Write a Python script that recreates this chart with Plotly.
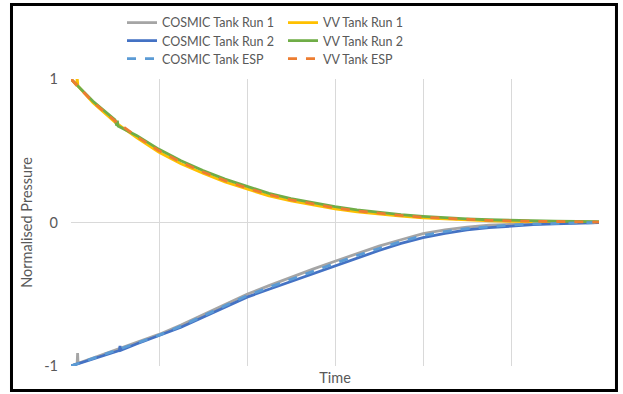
import plotly.graph_objects as go

# Common sampling instants (time axis has no printed units; one grid step per unit)
TIME = [0.0, 0.25, 0.5, 0.75, 1.0, 1.25, 1.5, 1.75, 2.0, 2.25, 2.5, 2.75, 3.0,
        3.25, 3.5, 3.75, 4.0, 4.25, 4.5, 4.75, 5.0, 5.25, 5.5, 5.75, 6.0]

# COSMIC tank: normalised pressure recovering from -1 towards 0
COSMIC_RUN1 = [-1.0, -0.945, -0.89, -0.835, -0.78, -0.715, -0.645, -0.575, -0.50,
               -0.44, -0.38, -0.325, -0.27, -0.215, -0.165, -0.12, -0.078, -0.052,
               -0.032, -0.019, -0.011, -0.006, -0.003, -0.001, 0.0]
COSMIC_RUN2 = [-1.0, -0.95, -0.90, -0.845, -0.79, -0.73, -0.66, -0.59, -0.52,
               -0.465, -0.41, -0.355, -0.30, -0.245, -0.195, -0.145, -0.105, -0.075,
               -0.052, -0.036, -0.024, -0.015, -0.009, -0.004, 0.0]
COSMIC_ESP = [-1.0, -0.948, -0.895, -0.84, -0.785, -0.722, -0.652, -0.582, -0.51,
              -0.452, -0.395, -0.34, -0.285, -0.23, -0.18, -0.132, -0.091, -0.063,
              -0.042, -0.027, -0.017, -0.010, -0.006, -0.003, 0.0]

# VV tank: normalised pressure decaying from 1 towards 0
VV_RUN1 = [1.0, 0.835, 0.70, 0.59, 0.49, 0.41, 0.343, 0.283, 0.232, 0.185, 0.15,
           0.12, 0.095, 0.075, 0.058, 0.044, 0.032, 0.024, 0.017, 0.012, 0.008,
           0.005, 0.003, 0.002, 0.001]
VV_RUN2 = [1.0, 0.845, 0.715, 0.605, 0.51, 0.43, 0.362, 0.302, 0.25, 0.203, 0.167,
           0.136, 0.11, 0.088, 0.07, 0.055, 0.043, 0.033, 0.025, 0.019, 0.014,
           0.011, 0.009, 0.007, 0.006]
VV_ESP = [1.0, 0.84, 0.708, 0.598, 0.50, 0.42, 0.352, 0.292, 0.24, 0.194, 0.158,
          0.128, 0.102, 0.081, 0.064, 0.049, 0.037, 0.028, 0.021, 0.015, 0.011,
          0.008, 0.006, 0.004, 0.003]

# Short transients recorded in the raw runs
COSMIC_RUN1_SPIKE_T = [0.07, 0.075, 0.08]
COSMIC_RUN1_SPIKE_V = [-0.983, -0.91, -0.982]
COSMIC_RUN2_SPIKE_T = [0.55, 0.557, 0.565]
COSMIC_RUN2_SPIKE_V = [-0.892, -0.86, -0.89]
VV_RUN1_SPIKE_T = [0.065, 0.07, 0.078]
VV_RUN1_SPIKE_V = [0.955, 1.01, 0.952]
VV_RUN2_SPIKE_T = [0.52, 0.527, 0.535]
VV_RUN2_SPIKE_V = [0.675, 0.71, 0.672]


def merged(t, v, st=(), sv=()):
    pts = sorted(list(zip(t, v)) + list(zip(st, sv)))
    return [p[0] for p in pts], [p[1] for p in pts]


FONT = "Lato"
TXT = "#595959"

# name, time, values, spike time, spike values, colour, dash, legend id
series = [
    ("COSMIC Tank Run 1", TIME, COSMIC_RUN1, COSMIC_RUN1_SPIKE_T, COSMIC_RUN1_SPIKE_V, "#a5a5a5", "solid", "legend"),
    ("VV Tank Run 1", TIME, VV_RUN1, VV_RUN1_SPIKE_T, VV_RUN1_SPIKE_V, "#ffc000", "solid", "legend2"),
    ("COSMIC Tank Run 2", TIME, COSMIC_RUN2, COSMIC_RUN2_SPIKE_T, COSMIC_RUN2_SPIKE_V, "#4472c4", "solid", "legend3"),
    ("VV Tank Run 2", TIME, VV_RUN2, VV_RUN2_SPIKE_T, VV_RUN2_SPIKE_V, "#70ad47", "solid", "legend4"),
    ("COSMIC Tank ESP", TIME, COSMIC_ESP, [], [], "#5b9bd5", "dash", "legend5"),
    ("VV Tank ESP", TIME, VV_ESP, [], [], "#ed7d31", "dash", "legend6"),
]

fig = go.Figure()
for name, t, v, st, sv, color, dash, leg in series:
    x, y = merged(t, v, st, sv)
    fig.add_trace(go.Scatter(
        x=x, y=y, mode="lines", name=name, legend=leg, showlegend=True,
        line=dict(color=color, width=2.8, dash=dash),
    ))

# Two-column legend: one single-entry legend per cell, rows 18 px apart
legend_cols = [0.0966, 0.4015]
legend_rows = [0.9797, 0.934, 0.8883]
legends = {}
for i, leg in enumerate(["legend", "legend2", "legend3", "legend4", "legend5", "legend6"]):
    legends[leg] = dict(
        x=legend_cols[i % 2], y=legend_rows[i // 2], yref="container",
        xanchor="left", yanchor="top",
        font=dict(family=FONT, size=12.5, color=TXT),
        bgcolor="rgba(0,0,0,0)",
    )

fig.update_layout(
    width=623, height=394, showlegend=True,
    margin=dict(l=71, r=24, t=79, b=28, autoexpand=False),
    paper_bgcolor="white", plot_bgcolor="white",
    font=dict(family=FONT, color=TXT, size=13),
    xaxis=dict(range=[0, 6], dtick=1, showticklabels=False, showgrid=True,
               gridcolor="#d9d9d9", gridwidth=1, zeroline=False, showline=False,
               title=dict(text="Time", font=dict(size=14.5, color=TXT), standoff=6)),
    yaxis=dict(range=[-1, 1], tickvals=[-1, 0, 1], ticktext=["-1", "0", "1"],
               showgrid=True, gridcolor="#d9d9d9", gridwidth=1, zeroline=False,
               showline=False, ticks="", ticklabelstandoff=12,
               tickfont=dict(size=14.5, color=TXT),
               title=dict(text="Normalised Pressure", font=dict(size=14.5, color=TXT),
                          standoff=8)),
    shapes=[dict(type="rect", xref="paper", yref="paper",
                 x0=-0.1127, x1=1.0331, y0=-0.0854, y1=1.2596,
                 line=dict(color="black", width=3), fillcolor="rgba(0,0,0,0)",
                 layer="above")],
    **legends,
)

fig.write_html("out.html")
